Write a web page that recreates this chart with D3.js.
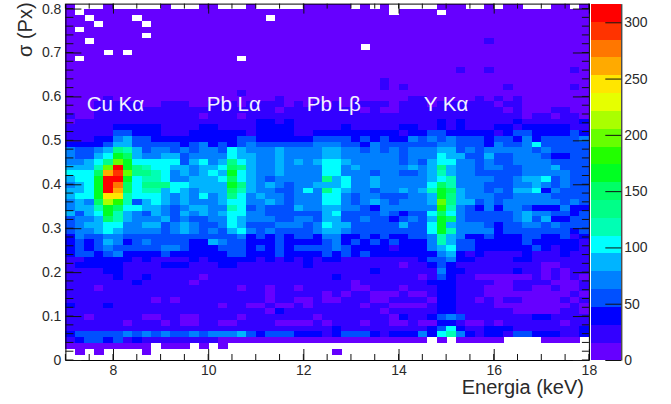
<!DOCTYPE html>
<html><head><meta charset="utf-8">
<script src="https://cdn.jsdelivr.net/npm/d3@7"></script>
<style>html,body{margin:0;padding:0;background:#fff}svg{display:block}text{font-family:"Liberation Sans",Arial,sans-serif;fill:#2a2a2a}</style>
</head><body>
<svg id="c" width="671" height="404"></svg>
<script>
// x: 55 energy bins of 0.2 keV from 7 to 18; y: 62 sigma bins from top to bottom; each character = palette band (0-9,a-j), "." = empty bin
const xRange=[7,18];
const yRange=[0,0.8113];
const zRange=[0,316.6];
const yTicks=[0,0.1,0.2,0.3,0.4,0.5,0.6,0.7,0.8];
const xTicks=[8,10,12,14,16,18];
const zTicks=[0,50,100,150,200,250,300];
const peakLabels=["Cu Kα","Pb Lα","Pb Lβ","Y Kα"];
const peakX=[8.05,10.54,12.64,15.0];
const palette=["#6600ff","#3300ff","#0000ff","#0050ff","#0080ff","#00b4ff","#00ffff","#00ffb4","#00ff88","#00ff66","#00ff22","#22ff00","#66ff00","#aaff00","#e6ff00","#ffe600","#ffaa00","#ff7700","#ff3300","#ff0000"];
const rows=[
"0...0 ..... 0...0 0...0 ..... 00000 .0.0. ....0 00..0 .00.. .00.0",
"0.000 00000 00000 00000 00000 00000 0000. 0000. 00000 00000 00000",
"00.00 00.00 00000 00000 0.000 00000 00000 00000 00000 00000 00000",
"000.0 000.0 00000 00000 00000 00000 00000 00000 00000 00000 00000",
"0.000 00000 00000 00000 00000 00000 00000 00000 00000 00000 00000",
"00000 000.0 00000 00000 00000 00000 00000 00000 00000 00000 00000",
"00.00 00000 00000 00000 00000 00000 00000 00000 00001 00000 00000",
"00000 00000 00000 00000 00000 00000 0.000 00000 00000 00000 00000",
"0000. 0.000 00000 00000 00000 00000 00000 00000 00000 00000 00000",
"0.000 00000 00000 000.0 00000 00000 00000 00000 00000 00000 00000",
"00000 00000 00000 00000 00000 00000 00000 00000 00000 00000 00000",
"00000 00000 00000 00000 00000 00000 00000 00000 01001 00000 00010",
"00000 00000 00000 00000 00000 00000 00000 00000 00000 00000 00000",
"00000 00000 00000 00000 00000 00000 00010 00000 00000 00000 00000",
"00000 00000 00000 00000 00000 00000 00010 10000 00000 01000 00010",
"00000 00000 00000 00010 00000 00000 00000 00000 00000 00000 00000",
"00001 00000 00000 00000 00100 00000 00000 01100 00010 10100 00000",
"00011 11100 11100 11101 11101 01010 11110 11101 11111 01100 00000",
"00011 11111 11111 11111 11011 11111 10100 11111 11111 10100 01100",
"10011 11111 11110 11101 11111 11111 11111 11111 11111 11101 10110",
"01111 11111 11111 11111 22121 11111 11111 11112 12111 11211 11112",
"11111 22222 11112 21111 22221 11112 11111 22112 12111 22122 22211",
"11111 33222 11122 22221 22221 12222 22222 12233 22222 12332 22232",
"11122 45332 22222 22233 22222 23333 23232 24343 43332 33242 33334",
"22223 55333 33234 23234 33333 34443 32433 33334 43332 43346 33333",
"43345 87534 43434 43654 44544 44554 43434 34445 53434 44443 43333",
"43356 a9544 55344 44655 44544 44554 44444 34446 55335 33444 32233",
"44568 ca666 66356 45865 44545 45665 44444 34356 64434 33444 43333",
"5557c ja876 65545 56985 44544 44664 54444 45458 54434 43344 45333",
"6669g ic887 64545 65a65 44544 44664 44344 33457 54433 33344 44433",
"566aj ja677 64455 56965 43444 44856 44544 44456 74444 33455 63433",
"456aj h9688 86655 55a85 45434 45556 44544 44469 74443 33445 43433",
"556aj g9677 56545 55975 44334 64865 44344 5457a 95443 43556 24333",
"566af f7666 54546 45864 54434 44664 34433 3445a 85444 33444 43333",
"4549d b7356 54544 45664 45434 44664 34543 4445c 85534 34444 44343",
"4557a 96655 43455 44763 43335 44554 43244 4444b 74324 24432 22422",
"5356a 75435 43545 45664 43333 33563 33343 23369 64333 33454 43323",
"34459 75444 53433 44654 44334 43553 34332 3435a 94333 33453 52233",
"34556 64455 34543 34653 33444 34655 33333 5336a 54443 23344 34333",
"34456 54444 34543 43564 34333 34554 33333 3336a 74444 23333 33323",
"24334 43333 33333 33342 32323 32442 23232 23347 54223 22233 22312",
"23235 42343 33322 54332 22322 22342 32323 22247 53322 22232 22221",
"23234 33333 44322 23332 32323 33343 22221 22245 63322 22223 21221",
"23323 42222 32222 22332 22322 22323 23222 22224 52121 11121 11211",
"11222 22121 11121 22222 12121 21221 11111 11233 42211 11221 11111",
"12222 21111 22211 12211 11111 21111 11111 01123 21111 11111 00111",
"11112 21111 11111 11111 11111 11111 11211 11114 22111 11211 01011",
"11111 21121 11110 11111 11111 11121 11111 11013 21100 00001 01010",
"11111 11211 11101 11111 11111 11111 01111 11122 21111 00111 10001",
"11101 11111 11111 11101 10110 11111 00111 01112 21110 00110 01001",
"11111 11111 11111 11111 10111 11010 11000 10012 21110 00000 00010",
"11111 11110 10111 11111 10110 01001 11001 11102 21101 01100 00101",
"21112 11111 11111 10110 01001 01111 10110 00012 21111 00000 00010",
"11111 11111 11111 11111 10211 11111 11101 11112 21111 11000 00110",
"11011 11100 11001 11101 11111 10111 11110 21123 43111 11112 21111",
"11111 10111 01001 10011 11000 01011 10110 01002 21001 01111 11011",
"11111 11111 11111 11111 11111 11121 11111 11123 62112 22111 11112",
"23333 34343 43343 44453 23332 22123 33212 22426 74212 21332 22112",
"12332 31211 11111 10000 00000 00000 00000 000.0 .0000 0.... 0000.",
"00000 0000. 000.0 .0... ..... ..... ..... ..... ..... ..... .....",
".0.0. ...0. ..... ..... ..... ...0. ..... ..... ..... ..... .....",
"..... ..... ..... ..... ..... ..... ..... ..... ..... ..... ....."
];

const nCols=55, nRows=rows.length, zStep=(zRange[1]-zRange[0])/palette.length;
const plot={l:65.4,r:588.9,t:3.6,b:360}, pal={l:591,r:621.3};
const x=d3.scaleLinear().domain(xRange).range([plot.l,plot.r]);
const y=d3.scaleLinear().domain(yRange).range([plot.b,plot.t]);
const z=d3.scaleLinear().domain(zRange).range([plot.b,plot.t]);
const color=d3.scaleQuantize().domain(zRange).range(palette);
const col=d3.scaleLinear().domain([0,nCols]).range(xRange);
const row=d3.scaleLinear().domain([0,nRows]).range([yRange[1],yRange[0]]);

const cells=[];
rows.forEach((s,r)=>{[...s.replace(/ /g,"")].forEach((ch,c)=>{
  if(ch==="."||c>=nCols)return;
  cells.push({c,r,v:(parseInt(ch,36)+0.5)*zStep});
});});

const svg=d3.select("#c");
svg.append("g").attr("shape-rendering","crispEdges").selectAll("rect").data(cells).join("rect")
  .attr("x",d=>x(col(d.c))).attr("width",d=>x(col(d.c+1))-x(col(d.c))+0.4)
  .attr("y",d=>y(row(d.r))).attr("height",d=>y(row(d.r+1))-y(row(d.r))+0.4)
  .attr("fill",d=>color(d.v));

// palette bar
svg.append("g").attr("shape-rendering","crispEdges").selectAll("rect").data(palette).join("rect")
  .attr("x",pal.l).attr("width",pal.r-pal.l)
  .attr("y",(d,i)=>z(zRange[0]+(i+1)*zStep)).attr("height",(d,i)=>z(zRange[0]+i*zStep)-z(zRange[0]+(i+1)*zStep)+0.4)
  .attr("fill",d=>d);

function minor(a,b,s){return d3.range(Math.ceil(a/s-1e-9),Math.floor(b/s+1e-9)+1).map(k=>+(k*s).toFixed(4));}
const xMinor=minor(xRange[0],xRange[1],0.5), yMinor=minor(yRange[0],yRange[1],0.02);
function tidy(g){g.select(".domain").attr("stroke","#000");g.selectAll("line").attr("stroke","#111");}
const lab=(g,size)=>g.selectAll("text").style("font-size",size+"px").attr("fill","#2a2a2a");

// x axes
const xb=svg.append("g").attr("transform",`translate(0,${plot.b})`);
xb.call(d3.axisBottom(x).tickValues(xTicks).tickSizeInner(-11).tickSizeOuter(0).tickPadding(5).tickFormat(d3.format("d")));
xb.call(lab,14);
xb.selectAll(".m").data(xMinor).join("line").attr("class","m").attr("x1",x).attr("x2",x).attr("y1",0).attr("y2",-6).attr("stroke","#222");
tidy(xb);
const xt=svg.append("g").attr("transform",`translate(0,${plot.t})`);
xt.call(d3.axisTop(x).tickValues(xTicks).tickSizeInner(-10).tickSizeOuter(0).tickFormat(""));
xt.selectAll(".m").data(xMinor).join("line").attr("class","m").attr("x1",x).attr("x2",x).attr("y1",0).attr("y2",5).attr("stroke","#222");
tidy(xt);

// y axes
const yl=svg.append("g").attr("transform",`translate(${plot.l},0)`);
yl.call(d3.axisLeft(y).tickValues(yTicks).tickSizeInner(-16).tickSizeOuter(0).tickPadding(4).tickFormat(d=>d===0?"0":d3.format(".1f")(d)));
yl.call(lab,14);
yl.selectAll(".m").data(yMinor).join("line").attr("class","m").attr("x1",0).attr("x2",8).attr("y1",y).attr("y2",y).attr("stroke","#222");
tidy(yl);
const yr=svg.append("g").attr("transform",`translate(${plot.r},0)`);
yr.call(d3.axisRight(y).tickValues(yTicks).tickSizeInner(-16).tickSizeOuter(0).tickFormat(""));
yr.selectAll(".m").data(yMinor).join("line").attr("class","m").attr("x1",0).attr("x2",-7).attr("y1",y).attr("y2",y).attr("stroke","#222");
tidy(yr);

// z axis
const za=svg.append("g").attr("transform",`translate(${pal.r},0)`);
za.call(d3.axisRight(z).tickValues(zTicks).tickSizeInner(-16).tickSizeOuter(0).tickPadding(19).tickFormat(d3.format("d")));
za.call(lab,14);
za.selectAll("text").attr("x",3);
tidy(za);

svg.append("text").attr("x",584).attr("y",394).attr("text-anchor","end").style("font-size","20px").text("Energia (keV)");
svg.append("text").attr("transform","translate(32,57) rotate(-90)").style("font-size","20px").text("σ (Px)");

svg.append("g").selectAll("text").data(peakLabels).join("text")
  .attr("x",(d,i)=>x(peakX[i])).attr("y",111).attr("text-anchor","middle")
  .style("font-size","20.5px").style("fill","#f2f2ff").text(d=>d);
</script>
</body></html>
